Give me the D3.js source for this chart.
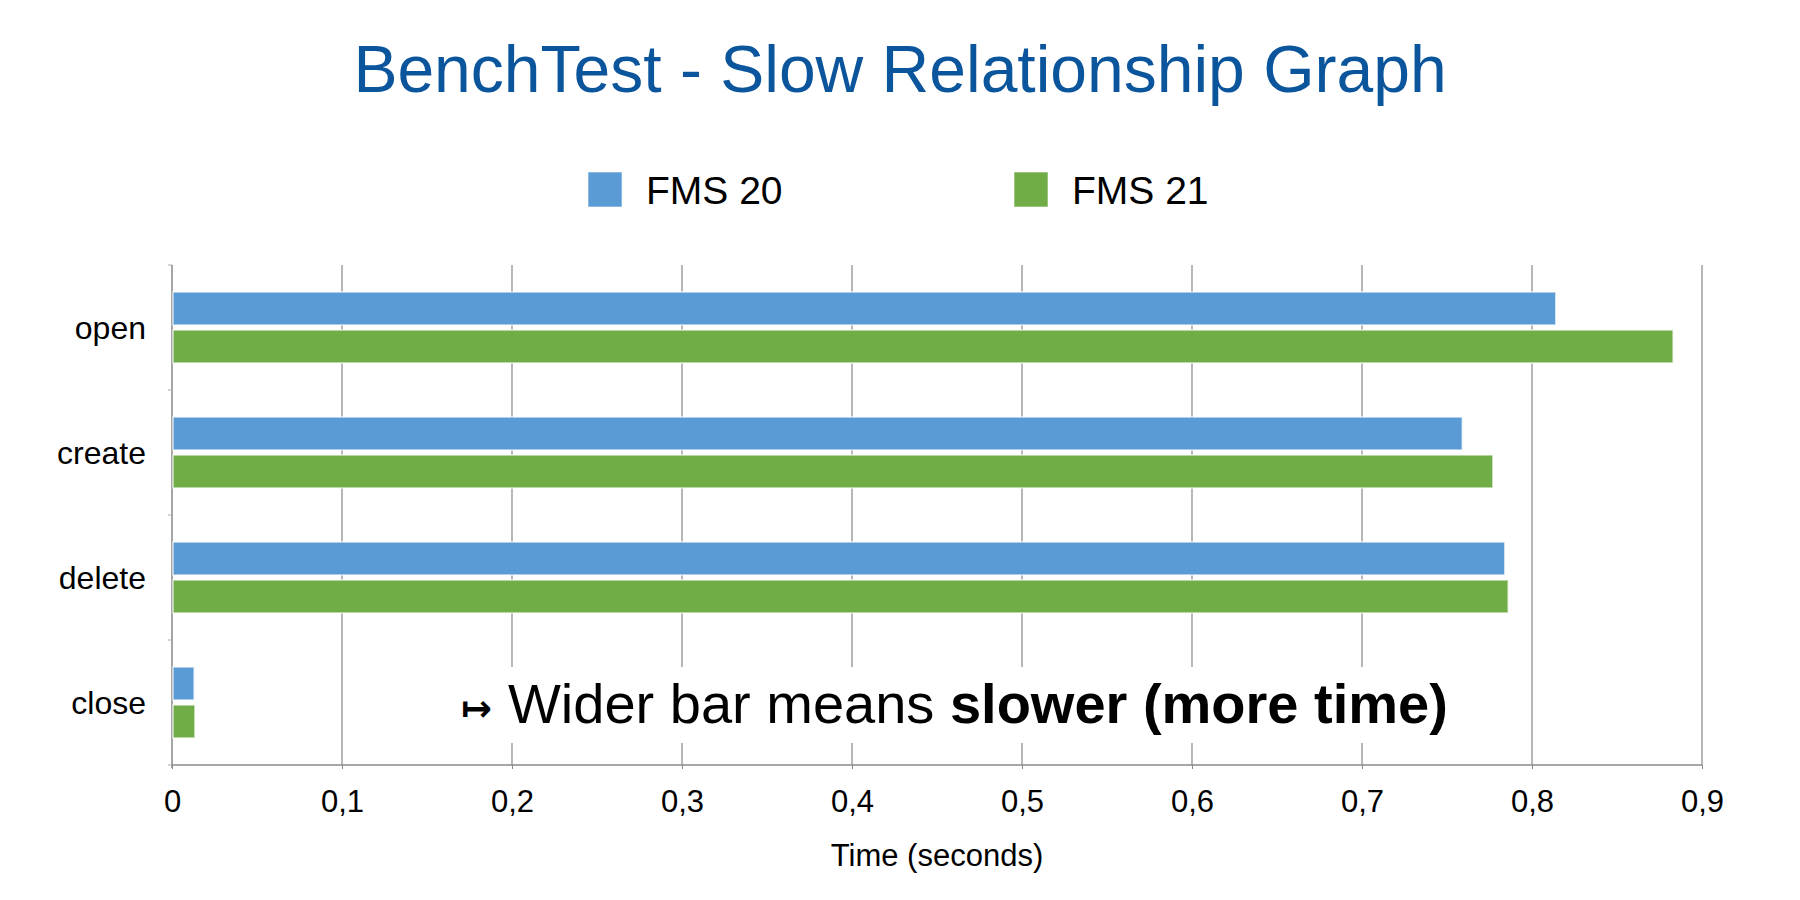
<!DOCTYPE html>
<html>
<head>
<meta charset="utf-8">
<script src="https://cdn.jsdelivr.net/npm/d3@7"></script>
<style>
  html, body { margin: 0; padding: 0; background: #fff; }
  svg { display: block; font-family: "Liberation Sans", Arial, sans-serif; }
</style>
</head>
<body>
<svg id="chart" width="1800" height="900"></svg>
<script>
const categories = ["open", "create", "delete", "close"];
const seriesNames = ["FMS 20", "FMS 21"];
const fms20 = [0.814, 0.759, 0.784, 0.013];
const fms21 = [0.883, 0.777, 0.786, 0.0135];
const xTicks = [0, 0.1, 0.2, 0.3, 0.4, 0.5, 0.6, 0.7, 0.8, 0.9];
const colors = ["#5B9BD5", "#70AD47"];

(function () {
const svg = d3.select("#chart");
const pLeft = 172, pRight = 1702, pTop = 265, pBottom = 765;

const x = d3.scaleLinear().domain([0, 0.9]).range([pLeft, pRight]);
const y = d3.scaleBand().domain(categories).range([pTop, pBottom]).paddingInner(0).paddingOuter(0);
const ySub = d3.scaleBand().domain(seriesNames).range([27, 98]).paddingInner(0.13).paddingOuter(0);

// Title
svg.append("text")
  .attr("x", 900).attr("y", 92)
  .attr("text-anchor", "middle")
  .attr("font-size", 66)
  .attr("fill", "#0B559C")
  .text("BenchTest - Slow Relationship Graph");

// Legend
const legendX = [588, 1014];
seriesNames.forEach((s, i) => {
  svg.append("rect").attr("x", legendX[i]).attr("y", 172).attr("width", 34).attr("height", 35)
    .attr("fill", colors[i]).attr("stroke", "#fff").attr("stroke-opacity", 0.6).attr("stroke-width", 1);
  svg.append("text").attr("x", legendX[i] + 58).attr("y", 204)
    .attr("font-size", 39).attr("fill", "#000").text(s);
});

// Gridlines
svg.append("g")
  .selectAll("line")
  .data(xTicks.slice(1))
  .join("line")
  .attr("x1", d => x(d)).attr("x2", d => x(d))
  .attr("y1", pTop).attr("y2", pBottom)
  .attr("stroke", "#888").attr("stroke-width", 1.2);

// Bottom axis
const xAxis = d3.axisBottom(x).tickValues(xTicks).tickSize(4).tickPadding(22)
  .tickFormat(d => d3.format("")(d).replace(".", ","));
const gx = svg.append("g").attr("transform", `translate(0,${pBottom})`).call(xAxis);
gx.select(".domain").attr("stroke", "#888").attr("stroke-width", 1.5).attr("d", `M${pLeft},0H${pRight}`);
gx.selectAll(".tick line").attr("stroke", "#888");
gx.selectAll(".tick text").attr("font-size", 31).attr("fill", "#000")
  .attr("font-family", "'Liberation Sans', Arial, sans-serif").attr("dy", "0.71em").attr("y", 25);

// Left axis
const yAxis = d3.axisLeft(y).tickSize(0).tickPadding(26);
const gy = svg.append("g").attr("transform", `translate(${pLeft},0)`).call(yAxis);
gy.select(".domain").attr("stroke", "#888").attr("stroke-width", 1.5).attr("d", `M0,${pTop}V${pBottom + 3}`);
gy.selectAll(".tick text").attr("font-size", 32).attr("fill", "#000")
  .attr("font-family", "'Liberation Sans', Arial, sans-serif").attr("dy", "0.35em");
// band boundary ticks
svg.append("g").selectAll("line")
  .data(categories.map(c => y(c)).concat([pBottom]))
  .join("line")
  .attr("x1", pLeft - 4).attr("x2", pLeft)
  .attr("y1", d => d).attr("y2", d => d)
  .attr("stroke", "#aaa").attr("stroke-width", 1);

// Bars
const values = [fms20, fms21];
seriesNames.forEach((s, si) => {
  svg.append("g")
    .selectAll("rect")
    .data(categories.map((c, i) => ({ c, v: values[si][i] })))
    .join("rect")
    .attr("x", x(0) + 1)
    .attr("y", d => y(d.c) + ySub(s))
    .attr("width", d => x(d.v) - x(0) - 1)
    .attr("height", ySub.bandwidth())
    .attr("fill", colors[si])
    .attr("stroke", "#fff").attr("stroke-opacity", 0.7).attr("stroke-width", 1.5);
});

// Axis title
svg.append("text")
  .attr("x", (pLeft + pRight) / 2).attr("y", 866)
  .attr("text-anchor", "middle").attr("font-size", 31).attr("fill", "#000")
  .text("Time (seconds)");

// Annotation with white background
svg.append("rect").attr("x", 440).attr("y", 667).attr("width", 1030).attr("height", 76).attr("fill", "#fff");
svg.append("text")
  .attr("x", 461).attr("y", 721)
  .attr("font-size", 37).attr("font-weight", "bold").attr("fill", "#000")
  .attr("font-family", "'DejaVu Sans', sans-serif")
  .text("↦");
const ann = svg.append("text")
  .attr("x", 508).attr("y", 723)
  .attr("font-size", 56).attr("fill", "#000");
ann.append("tspan").text("Wider bar means ");
ann.append("tspan").attr("font-weight", "bold").text("slower (more time)");
})();
</script>
</body>
</html>
